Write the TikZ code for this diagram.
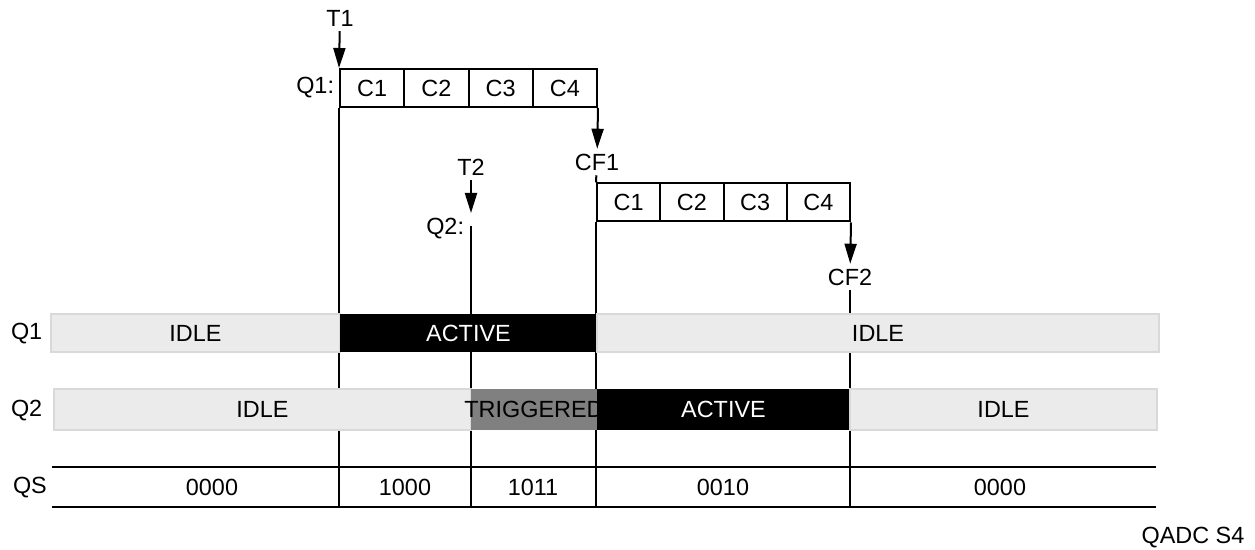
\documentclass[tikz,border=0pt]{standalone}
\usepackage{fontspec}
\setmainfont{Liberation Sans}
\usetikzlibrary{arrows.meta,positioning}
\definecolor{idlefill}{HTML}{EBEBEB}
\definecolor{idleline}{HTML}{D9D9D9}
\definecolor{trigfill}{HTML}{808080}

\begin{document}
\begin{tikzpicture}[
  x=0.5pt, y=-0.5pt,
  font=\fontsize{11.7}{13}\selectfont,
  line width=1pt,
  cell/.style={draw, minimum height=19pt, inner sep=0pt},
  lbl/.style={inner sep=2pt},
  idle/.style={fill=idlefill, draw=idleline},
  busy/.style={fill=black},
  trig/.style={fill=trigfill},
  arr/.style={-{Triangle[length=10pt,width=6pt]}}
]
\useasboundingbox (0,0) rectangle (1255,550);
\coordinate (qsbot) at (0,507);
\foreach \i in {1,...,4}
  \node[cell, minimum width=32.125pt] (qa\i) at ({340+64.25*(\i-0.5)},88) {C\i};
\foreach \i in {1,...,4}
  \node[cell, minimum width=31.625pt] (qb\i) at ({597+63.25*(\i-0.5)},202.5) {C\i};
\node[lbl, left=0pt of qa1] (q1tag) {Q1:};
\node[lbl] (t1) at (340,18) {T1};
\draw[arr] (t1) -- (qa1.north west);
\node[lbl] (cf1) at (597,162) {CF1};
\draw[arr] (qa4.south east) -- (cf1);
\draw (cf1) -- (qb1.north west);
\node[lbl] (t2) at (471,167) {T2};
\coordinate (q2go) at (471,213);
\draw[arr] (t2) -- (q2go);
\node[lbl, anchor=east] (q2tag) at (469,229) {Q2:};
\coordinate (q2start) at (471,226);
\node[lbl] (cf2) at (850,277) {CF2};
\draw[arr] (qb4.south east) -- (cf2);
\draw (cf2) -- (cf2 |- qsbot);
\draw (qa1.south west) -- (qa1.south west |- qsbot);
\draw (q2start) -- (q2start |- qsbot);
\draw (qb1.south west) -- (qb1.south west |- qsbot);
\draw[idle] (51,314) rectangle (340,352) node[midway] (q1idle) {IDLE};
\fill[busy] (340,314) rectangle (597,352) node[midway, text=white] (q1busy) {ACTIVE};
\draw[idle] (597,314) rectangle (1159,352) node[midway] (q1done) {IDLE};
\draw[idle] (54,389) rectangle (471,430) node[midway] (q2idle) {IDLE};
\fill[trig] (471,389) rectangle (597,430) node[midway] (q2trig) {TRIGGERED};
\fill[busy] (597,389) rectangle (850,430) node[midway, text=white] (q2busy) {ACTIVE};
\draw[idle] (850,389) rectangle (1157,430) node[midway] (q2done) {IDLE};
\node[lbl, anchor=west] (q1row) at (6,334) {Q1};
\node[lbl, anchor=west] (q2row) at (6,411) {Q2};
\node[lbl, anchor=west] (qsrow) at (8,488) {QS};
\draw (52,467) -- (1156,467);
\draw (52,507) -- (1156,507);
\foreach \x/\v [count=\k] in {212/0000, 405/1000, 533/1011, 723/0010, 1000/0000}
  \node[lbl] (qs\k) at (\x,487) {\v};
\node[lbl] (tag) at (1193,538) {QADC S4};
\end{tikzpicture}
\end{document}
